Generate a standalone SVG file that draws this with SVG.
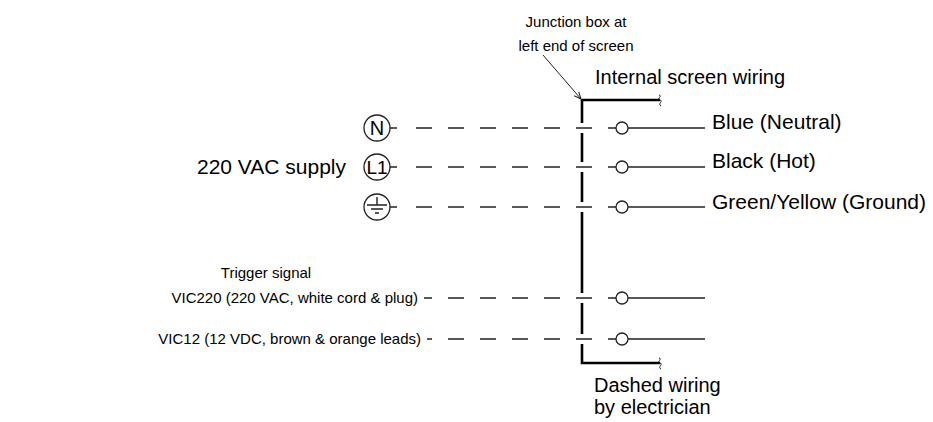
<svg xmlns="http://www.w3.org/2000/svg" width="933" height="422" viewBox="0 0 933 422">
<style>
text{font-family:"Liberation Sans",Arial,sans-serif;font-size:20px;fill:#000}
.sm{font-size:15px}
.dash{stroke:#222;stroke-width:1.4;stroke-dasharray:16 16;fill:none}
.wire{stroke:#222;stroke-width:1.4;fill:none}
.thick{stroke:#000;stroke-width:2.6;fill:none}
.term{stroke:#222;stroke-width:1.3;fill:#fff}
.sym{stroke:#222;stroke-width:1.3;fill:#fff}
.thin{stroke:#222;stroke-width:1;fill:none}
</style>
<defs>
<marker id="ah" markerWidth="8" markerHeight="8" refX="7" refY="4" orient="auto" markerUnits="userSpaceOnUse">
<path d="M0,1 L7,4 L0,7" fill="none" stroke="#222" stroke-width="1"/>
</marker>
</defs>
<rect width="933" height="422" fill="#fff"/>

<g id="labels">
<text class="sm" x="576" y="27" text-anchor="middle">Junction box at</text>
<text class="sm" x="576" y="51" text-anchor="middle">left end of screen</text>
<text x="595" y="84">Internal screen wiring</text>
<text x="346" y="174" text-anchor="end" style="font-size:21px">220 VAC supply</text>
<text class="sm" x="266" y="278" text-anchor="middle">Trigger signal</text>
<text class="sm" x="418" y="303" text-anchor="end">VIC220 (220 VAC, white cord &amp; plug)</text>
<text class="sm" x="421" y="344" text-anchor="end">VIC12 (12 VDC, brown &amp; orange leads)</text>
<text x="594" y="392">Dashed wiring</text>
<text x="594" y="414">by electrician</text>
</g>

<g id="junction-box">
<path class="thick" d="M582,100 H660"/>
<path class="thin" d="M659,95 c4,1 -3,4 1,5 c4,1 -3,4 1,6"/>
<path class="thick" d="M582,99 V123 M582,133 V162 M582,172 V202 M582,212 V293 M582,303 V334 M582,344 V363 H660"/>
<path class="thin" d="M659,358 c4,1 -3,4 1,5 c4,1 -3,4 1,6"/>
</g>

<g id="connectors">
<path class="thin" d="M543,55 L581,99" marker-end="url(#ah)"/>
<path class="dash" d="M416,128 H592 M416,167 H592 M416,207 H592"/>
<path class="dash" style="stroke-dashoffset:8" d="M424,298 H592"/>
<path class="dash" style="stroke-dashoffset:11" d="M427,339 H592"/>
<path class="wire" d="M390,128 H397 M390,167 H397 M390,207 H397"/>
<path class="wire" d="M608,128 H616 M628,128 H705 M608,167 H616 M628,167 H705 M608,207 H616 M628,207 H705 M608,298 H616 M628,298 H705 M608,339 H616 M628,339 H705"/>
</g>

<g id="node-N">
<circle class="sym" cx="377" cy="128" r="13"/>
<text x="377" y="135" text-anchor="middle">N</text>
</g>
<g id="node-L1">
<circle class="sym" cx="377" cy="167" r="13"/>
<text x="377" y="174" text-anchor="middle" style="font-size:19px">L1</text>
</g>
<g id="node-ground">
<circle class="sym" cx="377" cy="207" r="13"/>
<path class="wire" d="M377,197 V205 M367,205 H387 M371,209 H383 M375,213 H379"/>
</g>

<g id="terminals">
<circle id="t-blue" class="term" cx="622" cy="128" r="6"/>
<circle id="t-black" class="term" cx="622" cy="167" r="6"/>
<circle id="t-ground" class="term" cx="622" cy="207" r="6"/>
<circle id="t-trig1" class="term" cx="622" cy="298" r="6"/>
<circle id="t-trig2" class="term" cx="622" cy="339" r="6"/>
</g>

<g id="wire-labels">
<text x="712" y="129" style="font-size:21px">Blue (Neutral)</text>
<text x="712" y="168" style="font-size:21px">Black (Hot)</text>
<text x="712" y="209" style="font-size:21px">Green/Yellow (Ground)</text>
</g>
</svg>
